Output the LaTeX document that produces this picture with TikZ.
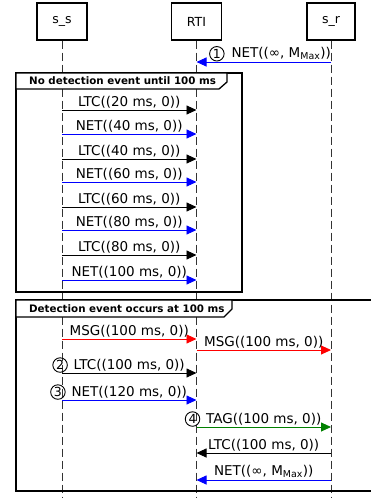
\documentclass[tikz,border=0pt]{standalone}
\usepackage{fontspec}
\setmainfont{DejaVu Sans}
\usetikzlibrary{arrows.meta,positioning}

\begin{document}
\begin{tikzpicture}[
  x=1pt, y=-1pt,
  node distance=134.5pt,
  actor/.style={draw, line width=1.3pt, fill=white, minimum width=50pt,
                minimum height=37pt, font=\fontsize{12.5}{14}\selectfont},
  lifeline/.style={dash pattern=on 8pt off 4pt, line width=0.9pt, black!80},
  msg/.style={-{Triangle[length=10pt,width=9pt]}, line width=0.9pt},
  lbl/.style={font=\fontsize{13.5}{15}\selectfont, inner sep=1.5pt},
  num/.style={draw, circle, line width=0.9pt, minimum size=14.5pt, inner sep=0pt,
              font=\fontsize{12.5}{13}\selectfont},
  tabtext/.style={font=\bfseries\fontsize{10.3}{12}\selectfont, anchor=west, inner sep=0pt},
  frame/.style={line width=1.3pt}
]
\useasboundingbox (0,0) rectangle (371,498);

\node[actor] (ss) at (62,21.5) {s\_s};
\node[actor, right of=ss] (rti) {RTI};
\node[actor, right of=rti, minimum width=48pt] (sr) {s\_r};
\coordinate (bot) at (0,498);

% lifelines
\draw[lifeline] (ss.south) -- (ss |- bot);
\draw[lifeline] (rti.south) -- (rti |- bot);
\draw[lifeline] (sr.south) -- (sr |- bot);

% one row per message
\foreach \i/\y in {1/62,2/110,3/134,4/159,5/182,6/207,7/230,8/255,9/280,
                   10/339,11/350,12/373,13/400,14/427,15/453,16/480} {
  \coordinate (y\i) at (0,\y);
  \coordinate (ss\i) at (ss |- y\i);
  \coordinate (rti\i) at (rti |- y\i);
  \coordinate (sr\i) at (sr |- y\i);
}

% frames
\draw[frame] (16,73) rectangle (242,292);
\draw[frame, fill=white] (16,73) -- (227,73) -- (227,82) -- (219,89) -- (16,89) -- cycle;
\node[tabtext] (t1) at (29,81) {No detection event until 100 ms};
\draw[frame] (380,300) -- (16,300) -- (16,491) -- (380,491);
\draw[frame, fill=white] (16,300) -- (232,300) -- (232,309) -- (224,317) -- (16,317) -- cycle;
\node[tabtext] (t2) at (29,308.5) {Detection event occurs at 100 ms};

% messages
\draw[msg, blue] (sr1) -- (rti1) node[lbl, black, pos=0.37, above] (l1) {NET((∞, M\textsubscript{Max}))};
\node[num, left=5pt of l1] (n1) {1};
\draw[msg] (ss2) -- (rti2) node[lbl, midway, above] (l2) {LTC((20 ms, 0))};
\draw[msg, blue] (ss3) -- (rti3) node[lbl, black, midway, above] (l3) {NET((40 ms, 0))};
\draw[msg] (ss4) -- (rti4) node[lbl, midway, above] (l4) {LTC((40 ms, 0))};
\draw[msg, blue] (ss5) -- (rti5) node[lbl, black, midway, above] (l5) {NET((60 ms, 0))};
\draw[msg] (ss6) -- (rti6) node[lbl, midway, above] (l6) {LTC((60 ms, 0))};
\draw[msg, blue] (ss7) -- (rti7) node[lbl, black, midway, above] (l7) {NET((80 ms, 0))};
\draw[msg] (ss8) -- (rti8) node[lbl, midway, above] (l8) {LTC((80 ms, 0))};
\draw[msg, blue] (ss9) -- (rti9) node[lbl, black, midway, above] (l9) {NET((100 ms, 0))};
\draw[msg, red] (ss10) -- (rti10) node[lbl, black, midway, above] (l10) {MSG((100 ms, 0))};
\draw[msg, red] (rti11) -- (sr11) node[lbl, black, midway, above] (l11) {MSG((100 ms, 0))};
\draw[msg] (ss12) -- (rti12) node[lbl, midway, above] (l12) {LTC((100 ms, 0))};
\node[num, left=4pt of l12] (n2) {2};
\draw[msg, blue] (ss13) -- (rti13) node[lbl, black, midway, above] (l13) {NET((120 ms, 0))};
\node[num, left=4pt of l13] (n3) {3};
\draw[msg, green!50!black] (rti14) -- (sr14) node[lbl, black, midway, above] (l14) {TAG((100 ms, 0))};
\node[num, left=4pt of l14] (n4) {4};
\draw[msg] (sr15) -- (rti15) node[lbl, midway, above] (l15) {LTC((100 ms, 0))};
\draw[msg, blue] (sr16) -- (rti16) node[lbl, black, midway, above] (l16) {NET((∞, M\textsubscript{Max}))};
\end{tikzpicture}
\end{document}
